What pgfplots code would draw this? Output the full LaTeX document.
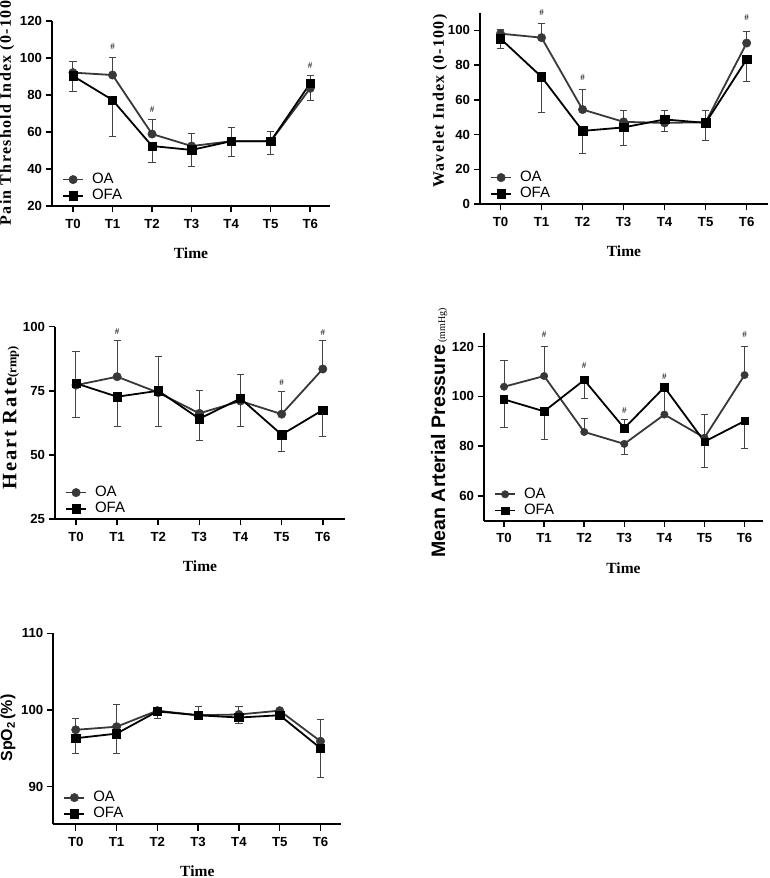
\documentclass[border=0pt]{standalone}
\usepackage{fontspec}
\setmainfont{Liberation Serif}
\setsansfont{Liberation Sans}
\newfontfamily\lsserif[LetterSpace=8]{Liberation Serif}
\newfontfamily\hrserif[LetterSpace=9]{Liberation Serif}
\usepackage{pgfplots}
\usepackage{pgfplotstable}
\pgfplotsset{compat=1.18}

\definecolor{oacol}{HTML}{383838}
\definecolor{errcol}{HTML}{444444}

% Panel 1: Pain Threshold Index
\pgfplotstableread{
x y ep em
0 92.1 5.9 0
1 90.8 9.2 0
2 58.9 7.6 0
3 52.4 6.9 0
4 55.0 7.5 0
5 55.0 5.2 0
6 83.6 0 6.8
}\paOA
\pgfplotstableread{
x y ep em
0 90.3 0 8.5
1 77.3 0 19.5
2 52.4 0 9.0
3 50.3 0 8.7
4 55.0 0 8.0
5 55.0 0 7.4
6 86.3 4.1 0
}\paOFA
% Panel 2: Wavelet Index
\pgfplotstableread{
x y ep em
0 98.1 2.3 0
1 95.8 8.0 0
2 54.4 11.5 0
3 47.3 6.3 0
4 46.7 0 5.1
5 47.1 6.9 0
6 92.7 6.9 0
}\wiOA
\pgfplotstableread{
x y ep em
0 95.2 0 5.7
1 73.2 0 20.7
2 42.1 0 13.0
3 44.1 0 10.2
4 48.7 5.3 0
5 46.7 0 9.9
6 83.3 0 12.6
}\wiOFA
% Panel 3: Heart Rate
\pgfplotstableread{
x y ep em
0 77.2 13.0 0
1 80.5 14.0 0
2 74.3 14.0 0
3 66.2 9.1 0
4 71.0 10.5 0
5 65.9 9.0 0
6 83.5 11.3 0
}\hrOA
\pgfplotstableread{
x y ep em
0 77.9 0 13.3
1 72.7 0 11.7
2 75.0 0 14.0
3 64.1 0 8.3
4 72.0 0 11.0
5 57.9 0 6.4
6 67.5 0 10.2
}\hrOFA
% Panel 4: Mean Arterial Pressure
\pgfplotstableread{
x y ep em
0 103.9 10.5 0
1 108.2 11.8 0
2 85.7 5.3 0
3 80.9 0 4.4
4 92.7 11.0 0
5 83.4 9.4 0
6 108.6 11.4 0
}\mpOA
\pgfplotstableread{
x y ep em
0 98.8 0 11.2
1 94.0 0 11.5
2 106.6 0 7.3
3 87.2 3.4 0
4 103.7 0 11.0
5 81.8 0 10.3
6 90.1 0 10.9
}\mpOFA
% Panel 5: SpO2
\pgfplotstableread{
x y ep em
0 97.4 1.5 0
1 97.8 2.9 0
2 99.9 0.4 0
3 99.3 1.1 0
4 99.4 1.0 0
5 99.9 0.1 0
6 95.9 2.9 0
}\spOA
\pgfplotstableread{
x y ep em
0 96.3 0 2.0
1 96.9 0 2.6
2 99.8 0 0.9
3 99.3 0 0.6
4 99.0 0 0.8
5 99.3 0 0.5
6 95.0 0 3.8
}\spOFA

\pgfplotsset{
  prism/.style={
    scale only axis,
    anchor=south west,
    axis x line*=bottom,
    axis y line*=left,
    axis line style={line width=1.7pt, black},
    every tick/.style={line width=1.5pt, black},
    tick align=outside,
    major tick length=6.5pt,
    xtick={0,1,2,3,4,5,6},
    xticklabels={T0,T1,T2,T3,T4,T5,T6},
    ticklabel style={font=\fontsize{13.2}{15}\selectfont\sffamily\bfseries},
    xticklabel style={yshift=-3pt},
    /pgf/number format/assume math mode=true,
    clip=false,
    xlabel={Time},
    xlabel style={at={(axis description cs:0.5,0)}, anchor=center, yshift=-47pt,
      font=\fontsize{15.5}{16}\selectfont\bfseries},
    legend style={at={(axis description cs:0,0)}, anchor=south west,
      xshift=10pt, yshift=2pt,
      draw=none, fill=none, inner sep=0pt, row sep=0.5pt, column sep=7pt,
      font=\fontsize{15}{15}\selectfont\sffamily,
      nodes={inner sep=1pt, text height=10.8pt, text depth=3pt}},
    legend cell align=left,
    legend image code/.code={
      \draw[mark repeat=2, mark phase=2, #1] plot coordinates {(0pt,0pt) (10pt,0pt) (20pt,0pt)};},
    error bars/y dir=both,
    error bars/y explicit,
    error bars/error bar style={line width=1pt, errcol},
    error bars/error mark options={rotate=90, mark size=3.6pt, line width=1pt, errcol},
  },
  oastyle/.style={oacol, line width=1.8pt, mark=*, mark size=#1,
     mark options={solid, fill=oacol, draw=oacol, line width=0.5pt}},
  ofastyle/.style={black, line width=1.8pt, mark=square*, mark size=#1,
     mark options={solid, fill=black, draw=black, line width=0.5pt}},
}
\newcommand{\hashnode}[2]{\node[font=\fontsize{9}{9}\selectfont, inner sep=0pt] at (axis cs:#1,#2) {\#};}

\begin{document}
\begin{tikzpicture}
\useasboundingbox (0pt,0pt) rectangle (769pt,878pt);

% ---------------- Panel 1 ----------------
\begin{axis}[prism, at={(52pt,672pt)}, width=278pt, height=185pt,
  xmin=-0.53, xmax=6.5, ymin=20, ymax=120, ytick={20,40,60,80,100,120},
  ylabel={\lsserif\bfseries Pain Threshold Index (0-100)},
  ylabel style={at={(axis description cs:-0.162,0.52)}, anchor=center,
     font=\fontsize{16}{16}\selectfont}]
\addplot+[oastyle=4.2pt] table[x=x,y=y,y error plus=ep,y error minus=em]{\paOA};
\addlegendentry{OA}
\addplot+[ofastyle=4.2pt] table[x=x,y=y,y error plus=ep,y error minus=em]{\paOFA};
\addlegendentry{OFA}
\hashnode{1}{106.1}
\hashnode{2}{71.9}
\hashnode{6}{95.8}
\end{axis}

% ---------------- Panel 2 ----------------
\begin{axis}[prism, at={(480pt,674pt)}, width=288pt, height=191pt,
  xmin=-0.5, xmax=6.52, ymin=0, ymax=110, ytick={0,20,40,60,80,100},
  ylabel={\lsserif\bfseries Wavelet Index (0-100)},
  ylabel style={at={(axis description cs:-0.139,0.539)}, anchor=center,
     font=\fontsize{16}{16}\selectfont}]
\addplot+[oastyle=4.2pt] table[x=x,y=y,y error plus=ep,y error minus=em]{\wiOA};
\addlegendentry{OA}
\addplot+[ofastyle=4.2pt] table[x=x,y=y,y error plus=ep,y error minus=em]{\wiOFA};
\addlegendentry{OFA}
\hashnode{1}{110.5}
\hashnode{2}{72.8}
\hashnode{6}{107.3}
\end{axis}

% ---------------- Panel 3 ----------------
\begin{axis}[prism, at={(55pt,359pt)}, width=290pt, height=192.3pt,
  xmin=-0.51, xmax=6.54, ymin=25, ymax=100, ytick={25,50,75,100},
  ylabel={{\hrserif\bfseries\fontsize{20.5}{21}\selectfont Heart Rate}{\bfseries\fontsize{12.5}{13}\selectfont(rmp)}},
  ylabel style={at={(axis description cs:-0.152,0.525)}, anchor=center}]
\addplot+[oastyle=4.2pt] table[x=x,y=y,y error plus=ep,y error minus=em]{\hrOA};
\addlegendentry{OA}
\addplot+[ofastyle=4.2pt] table[x=x,y=y,y error plus=ep,y error minus=em]{\hrOFA};
\addlegendentry{OFA}
\hashnode{1}{98}
\hashnode{5}{78.2}
\hashnode{6}{97.8}
\end{axis}

% ---------------- Panel 4 ----------------
\begin{axis}[prism, at={(484pt,357.3pt)}, width=279pt, height=187.4pt,
  xmin=-0.5, xmax=6.46, ymin=50, ymax=125.4, ytick={60,80,100,120},
  ylabel={{\sffamily\bfseries\fontsize{19.5}{20}\selectfont Mean Arterial Pressure}\ {\fontsize{10}{11}\selectfont (mmHg)}},
  ylabel style={at={(axis description cs:-0.161,0.47)}, anchor=center}]
\addplot+[oastyle=3.7pt] table[x=x,y=y,y error plus=ep,y error minus=em]{\mpOA};
\addlegendentry{OA}
\addplot+[ofastyle=3.7pt] table[x=x,y=y,y error plus=ep,y error minus=em]{\mpOFA};
\addlegendentry{OFA}
\hashnode{1}{125}
\hashnode{2}{112.6}
\hashnode{3}{94.3}
\hashnode{4}{108}
\hashnode{6}{125}
\end{axis}

% ---------------- Panel 5 ----------------
\begin{axis}[prism, at={(53.3pt,54pt)}, width=288pt, height=190.7pt,
  xmin=-0.55, xmax=6.51, ymin=85.1, ymax=110, ytick={90,100,110},
  ylabel={\sffamily\bfseries SpO\textsubscript{2}\,(\%)},
  ylabel style={at={(axis description cs:-0.157,0.503)}, anchor=center,
     font=\fontsize{16}{16}\selectfont}]
\addplot+[oastyle=4.2pt] table[x=x,y=y,y error plus=ep,y error minus=em]{\spOA};
\addlegendentry{OA}
\addplot+[ofastyle=4.2pt] table[x=x,y=y,y error plus=ep,y error minus=em]{\spOFA};
\addlegendentry{OFA}
\end{axis}
\end{tikzpicture}
\end{document}
